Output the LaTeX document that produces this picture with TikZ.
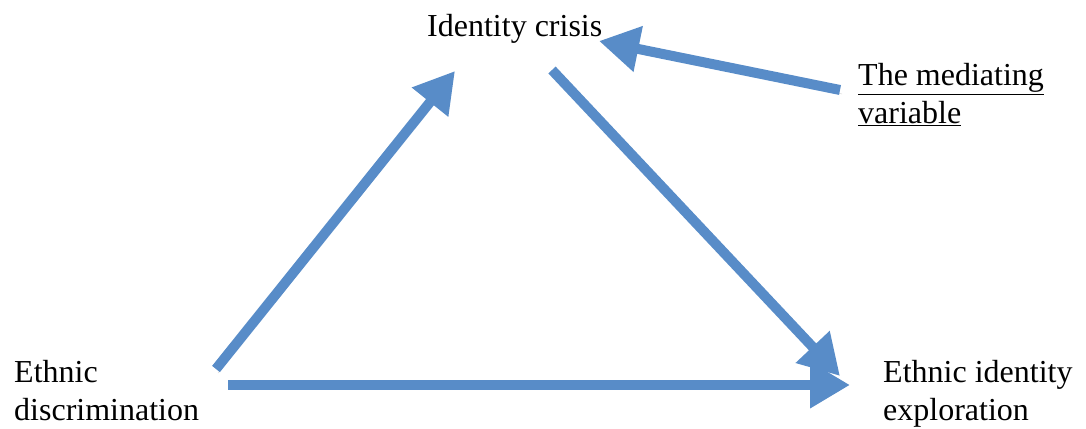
\documentclass[tikz,border=0pt]{standalone}
\usepackage{fontspec}
\setmainfont{Liberation Serif}
\usetikzlibrary{arrows.meta}
\definecolor{arrowblue}{RGB}{88,140,200}

\begin{document}
\begin{tikzpicture}[x=1pt, y=-1pt,
        label text/.style={inner sep=0pt, align=left, font=\fontsize{32}{38}\selectfont},
        fat arrow/.style={draw=arrowblue, line width=10pt,
            -{Triangle[length=40pt, width=44pt, fill=arrowblue]},
            preaction={draw=black!60, opacity=0.3, transform canvas={shift={(2pt,-4pt)}}}}]
        \useasboundingbox (0,0) rectangle (1086,428);

        % labels
        \node[label text, anchor=base west] (crisis) at (427,37) {Identity crisis};
        \node[label text, anchor=north west] (mediator) at (858,63) {\underline{The mediating}\\\underline{variable}};
        \node[label text, anchor=north west] (discr) at (14,360) {Ethnic\\discrimination};
        \node[label text, anchor=north west] (explore) at (883,360) {Ethnic identity\\exploration};

        % arrow ends
        \coordinate (discr top) at (216,369);
        \coordinate (crisis left) at (455,71);
        \coordinate (crisis right) at (552,70);
        \coordinate (explore top) at (840,376);
        \coordinate (discr right) at (228,385);
        \coordinate (explore left) at (850,385);
        \coordinate (mediator left) at (840,90);
        \coordinate (crisis tip) at (599,41);

        \draw[fat arrow] (discr top) -- (crisis left);
        \draw[fat arrow] (crisis right) -- (explore top);
        \draw[fat arrow] (discr right) -- (explore left);
        \draw[fat arrow] (mediator left) -- (crisis tip);
\end{tikzpicture}
\end{document}
